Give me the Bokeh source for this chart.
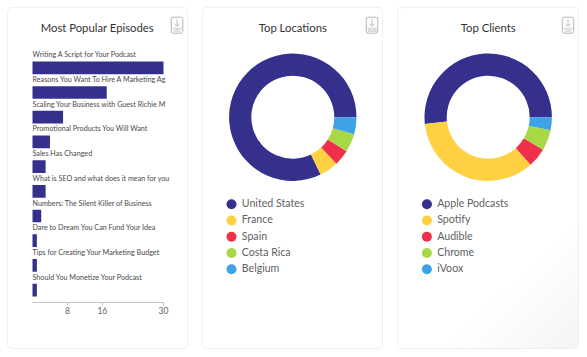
from bokeh.plotting import figure
from bokeh.layouts import row
from bokeh.models import Range1d, LinearAxis, FixedTicker
from bokeh.core.properties import value
from bokeh.embed import file_html
from bokeh.resources import INLINE
import numpy as np

episodes = ["Writing A Script for Your Podcast", "Reasons You Want To Hire A Marketing Ag",
            "Scaling Your Business with Guest Richie M", "Promotional Products You Will Want",
            "Sales Has Changed", "What is SEO and what does it mean for you",
            "Numbers: The Silent Killer of Business", "Dare to Dream You Can Fund Your Idea",
            "Tips for Creating Your Marketing Budget", "Should You Monetize Your Podcast"]
plays = [30, 17, 7, 4, 3, 3, 2, 1, 1, 1]
x_ticks = [8, 16, 30]

locations = ["United States", "France", "Spain", "Costa Rica", "Belgium"]
location_shares = [82.2, 4.8, 4.0, 4.7, 4.3]
clients = ["Apple Podcasts", "Spotify", "Audible", "Chrome", "iVoox"]
client_shares = [51.7, 34.9, 4.9, 5.2, 3.3]
colors = ["#35308c", "#ffd042", "#f0304a", "#a8d845", "#3ea2e8"]

FONT = "Lato"
H = 340
TITLE_SIZE = "11.3px"
TITLE_COLOR = "#333333"


def card(w, x_range, y_range, gradient=False):
    bg = "linear-gradient(315deg, #f4f4f4 0%, #ffffff 25%)" if gradient else "#ffffff"
    p = figure(width=w, height=H, x_range=x_range, y_range=y_range, output_backend="svg",
               toolbar_location=None, min_border=0, outline_line_color=None,
               background_fill_color=None, border_fill_color=None,
               x_axis_location=None, y_axis_location=None)
    p.grid.visible = False
    p.styles = {"box-shadow": "0 0 0 1px #f0f0f0, 0 1px 2px rgba(0,0,0,0.04)",
                "border-radius": "4px", "background": bg}
    return p


def icon(p, cx, cy, sx, sy, label):
    """Download icon at data position cx, cy; sx, sy convert one pixel to data units."""
    p.rect([cx], [cy], width=11.5 * sx, height=16 * abs(sy), fill_color="#ffffff",
           line_color="#b5b5b5", line_width=1, border_radius=2)
    p.segment([cx - 5.7 * sx], [cy + 3 * sy], [cx + 5.7 * sx], [cy + 3 * sy],
              line_color="#c4c4c4", line_width=0.7)
    p.segment([cx], [cy - 6 * sy], [cx], [cy + 1 * sy], line_color="#b0b0b0", line_width=0.8)
    p.segment([cx - 2.6 * sx, cx + 2.6 * sx], [cy - 1.5 * sy] * 2, [cx, cx], [cy + 1 * sy] * 2,
              line_color="#b0b0b0", line_width=0.8)
    p.text([cx], [cy + 5.4 * sy], text=[label], text_font=value(FONT), text_font_size="3.5px",
           text_color="#999999", text_align="center", text_baseline="middle")


# ---- card 1: bars. Value 30 spans 131 px, bars start 24 px into the card
W1 = 179
px_per_val = 131 / 30
x1 = Range1d(-24 / px_per_val, (W1 - 24) / px_per_val)
pitch = 24.7
y1 = Range1d((H - 59.3) / pitch, -59.3 / pitch)
p1 = card(W1, x1, y1)
ys = list(range(len(episodes)))
p1.hbar(y=ys, right=plays, left=0, height=12.7 / pitch, fill_color=colors[0], line_color=None)
p1.text([0] * len(ys), [y - 13 / pitch for y in ys], text=episodes, text_font=value(FONT),
        text_font_size="7.2px", text_color="#4a4a4a", text_baseline="middle", text_align="left")
ax = LinearAxis(fixed_location=len(ys) - 0.5, ticker=FixedTicker(ticks=x_ticks), bounds=(0, 30))
ax.axis_line_color = "#c4c4c4"
ax.major_tick_line_color = "#c4c4c4"
ax.major_tick_out = 3
ax.major_tick_in = 0
ax.minor_tick_line_color = None
ax.major_label_text_font = FONT
ax.major_label_text_font_size = "8.5px"
ax.major_label_text_color = "#666666"
ax.major_label_standoff = 2
p1.add_layout(ax, "below")
p1.text([(88.8 - 24) / px_per_val], [(19.3 - 59.3) / pitch], text=["Most Popular Episodes"],
        text_font=value(FONT), text_font_size=TITLE_SIZE, text_color=TITLE_COLOR,
        text_align="center", text_baseline="middle")
icon(p1, (168.5 - 24) / px_per_val, (16.7 - 59.3) / pitch, 1 / px_per_val, 1 / pitch, "CSV")


# ---- donut cards: data units equal pixels, origin at the donut centre
def donut(w, cx, title, names, shares, icon_x, label, gradient=False):
    CY = 108.7
    p = card(w, Range1d(-cx, w - cx), Range1d(-(H - CY), CY), gradient)
    ang = np.cumsum([0] + shares) / sum(shares) * 2 * np.pi
    p.annular_wedge(0, 0, inner_radius=41.5, outer_radius=63.7, start_angle=ang[:-1], end_angle=ang[1:],
                    direction="anticlock", fill_color=colors, line_color=None)
    p.text([0], [CY - 19.3], text=[title], text_font=value(FONT), text_font_size=TITLE_SIZE,
           text_color=TITLE_COLOR, text_align="center", text_baseline="middle")
    icon(p, icon_x - cx, CY - 16.7, 1, -1, label)
    y_leg = [CY - (195.7 + 16.25 * i) for i in range(len(names))]
    p.circle([-61.3] * len(names), y_leg, radius=5, fill_color=colors, line_color=None)
    p.text([-51] * len(names), [y + 1 for y in y_leg], text=names, text_font=value(FONT),
           text_font_size="10.6px", text_color="#5f5f5f", text_align="left", text_baseline="middle")
    return p


p2 = donut(179, 89.3, "Top Locations", locations, location_shares, 168.5, "JSON")
p3 = donut(180, 89.7, "Top Clients", clients, client_shares, 169.5, "CSV", gradient=True)

page = row(p1, p2, p3, spacing=16, margin=(8, 0, 0, 8))
open("out.html", "w").write(file_html(page, INLINE))
